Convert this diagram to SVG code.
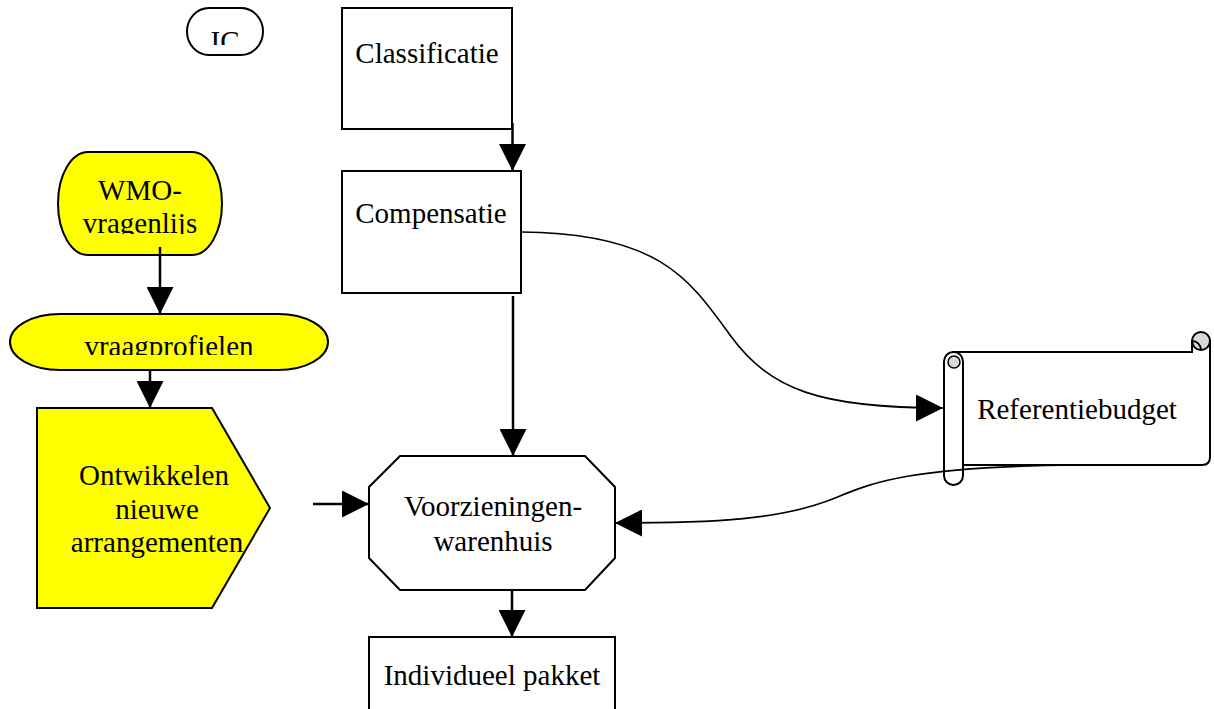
<svg xmlns="http://www.w3.org/2000/svg" width="1214" height="709" viewBox="0 0 1214 709">
<style>
.box{fill:#fff;stroke:#000;stroke-width:2}
.yel{fill:#ffff00;stroke:#000;stroke-width:2}
.t{font-family:"Liberation Serif","Times New Roman",serif;font-size:29px;fill:#000;text-anchor:middle}
.con{fill:none;stroke:#000;stroke-width:2.5}
.cur{fill:none;stroke:#000;stroke-width:1.6}
</style>
<defs>
<marker id="ah" markerUnits="userSpaceOnUse" markerWidth="27" markerHeight="27" refX="27" refY="13.5" orient="auto">
<path d="M0,0 L27,13.5 L0,27 z" fill="#000"/>
</marker>
<clipPath id="cIC"><rect x="186" y="8" width="78" height="37"/></clipPath>
<clipPath id="cWMO"><rect x="58" y="152" width="164" height="82"/></clipPath>
<clipPath id="cVP"><rect x="10" y="314" width="318" height="41"/></clipPath>
<clipPath id="cIP"><rect x="0" y="0" width="1214" height="709"/></clipPath>
</defs>
<rect width="1214" height="709" fill="#fff"/>

<g id="node-ic">
<rect class="box" x="187" y="8" width="76" height="47" rx="22" ry="23.5"/>
<text class="t" x="225" y="51" clip-path="url(#cIC)">IC</text>
</g>

<g id="node-classificatie">
<rect class="box" x="342" y="8" width="170" height="121"/>
<text class="t" x="427" y="63">Classificatie</text>
</g>

<g id="node-compensatie">
<rect class="box" x="342" y="171" width="179" height="122"/>
<text class="t" x="431" y="223">Compensatie</text>
</g>

<g id="node-wmo">
<rect class="yel" x="58" y="152" width="164" height="103" rx="30" ry="51.5"/>
<text class="t" x="140" y="200">WMO-</text>
<text class="t" x="140" y="233" clip-path="url(#cWMO)">vragenlijs</text>
</g>

<g id="node-vraagprofielen">
<rect class="yel" x="10" y="314" width="318" height="56" rx="50" ry="28"/>
<text class="t" x="169" y="356" clip-path="url(#cVP)">vraagprofielen</text>
</g>

<g id="node-ontwikkelen">
<polygon class="yel" points="37,408 212,408 270,508 212,608 37,608"/>
<text class="t" x="154" y="485">Ontwikkelen</text>
<text class="t" x="157" y="519">nieuwe</text>
<text class="t" x="157" y="552">arrangementen</text>
</g>

<g id="node-voorzieningen">
<polygon class="box" points="400,456 585,456 615,487 615,558 585,590 400,590 369,558 369,487"/>
<text class="t" x="493" y="516">Voorzieningen-</text>
<text class="t" x="493" y="551">warenhuis</text>
</g>

<g id="node-individueel">
<rect class="box" x="369" y="637" width="246" height="90"/>
<text class="t" x="492" y="685">Individueel pakket</text>
</g>

<g id="node-referentiebudget">
<path class="box" d="M953,352 L1192,352 L1192,341 L1210,341 L1210,457 Q1210,465 1202,465 L953,465 Z"/>
<circle cx="1201" cy="341" r="9" fill="#d9d9d9" stroke="#000" stroke-width="2"/>
<path d="M1192,352 L1192,341 A9,9 0 0 1 1201,350" fill="none" stroke="#000" stroke-width="2"/>
<line x1="1210" y1="341" x2="1210" y2="360" stroke="#000" stroke-width="2"/>
<rect class="box" x="944" y="352" width="19" height="133" rx="9.5" ry="9.5"/>
<circle cx="954" cy="362" r="6" fill="#d9d9d9" stroke="#000" stroke-width="1.5"/>
<text class="t" x="1077" y="419">Referentiebudget</text>
</g>

<g id="connectors">
<line class="con" x1="512.5" y1="123" x2="512.5" y2="171" marker-end="url(#ah)"/>
<line class="con" x1="513" y1="296" x2="513" y2="456" marker-end="url(#ah)"/>
<line class="con" x1="160" y1="247" x2="160" y2="314" marker-end="url(#ah)"/>
<line class="con" x1="150" y1="371" x2="150" y2="408" marker-end="url(#ah)"/>
<line class="con" x1="313" y1="504" x2="369" y2="504" marker-end="url(#ah)"/>
<line class="con" x1="512" y1="590" x2="512" y2="637" marker-end="url(#ah)"/>
<path class="cur" d="M521,232 C660,233 690,280 730,335 C770,390 820,408 943,408" marker-end="url(#ah)"/>
<path class="cur" d="M1077,465 C900,467 870,484 830,500 C780,519 720,523 615,523" marker-end="url(#ah)"/>
</g>
</svg>
